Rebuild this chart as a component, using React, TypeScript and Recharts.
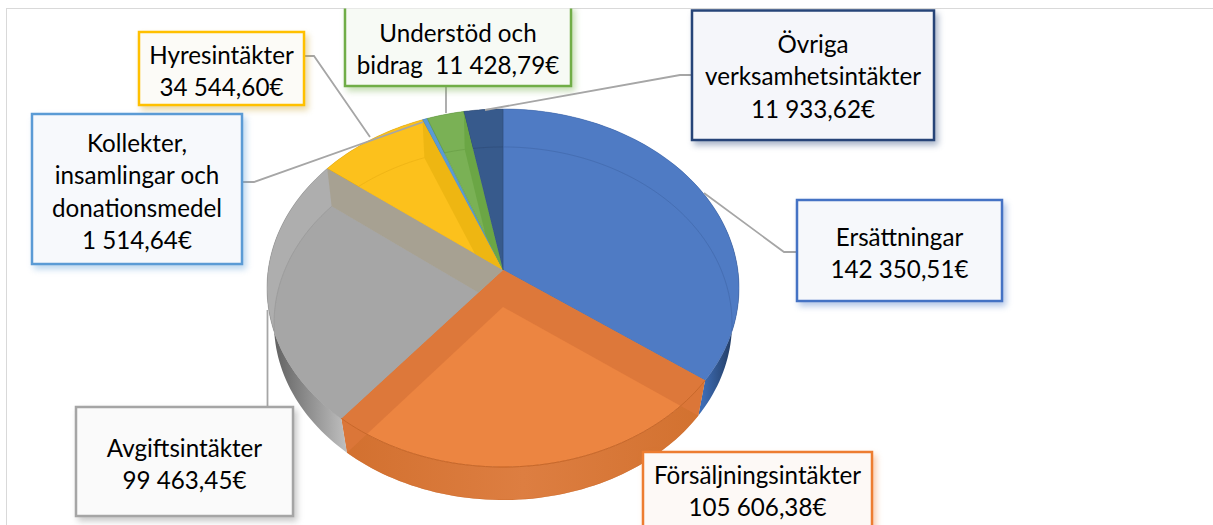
import { PieChart, Pie } from "recharts";

const NAMES = [
    "Ersättningar",
    "Försäljningsintäkter",
    "Avgiftsintäkter",
    "Hyresintäkter",
    "Kollekter, insamlingar och donationsmedel",
    "Understöd och bidrag",
    "Övriga verksamhetsintäkter",
];
const VALUES = [142350.51, 105606.38, 99463.45, 34544.6, 1514.64, 11428.79, 11933.62];
const LABEL_LINES = [
    ["Ersättningar", "142 350,51€"],
    ["Försäljningsintäkter", "105 606,38€"],
    ["Avgiftsintäkter", "99 463,45€"],
    ["Hyresintäkter", "34 544,60€"],
    ["Kollekter,", "insamlingar och", "donationsmedel", "1 514,64€"],
    ["Understöd och", "bidrag\u00a0\u00a011 428,79€"],
    ["Övriga", "verksamhetsintäkter", "11 933,62€"],
];

const pieData = NAMES.map((name, i) => ({ name, value: VALUES[i] }));

// styling per slice, same order as NAMES
const FACE = ["#4f7bc4", "#ec8541", "#aeaeae", "#fcc11c", "#5b9bd5", "#7ab155", "#375a8c"];
const FLOOR_TINT = [null, null, "#a6a6a6", null, null, null, null];
const ARC_LINE = ["#3f65a6", "#c8682a", "#939393", "#e6ad12", "#4a86bd", "#659a42", "#2c4a75"];
const WALL = [null, "#db773a", "#a6a08f", "#ecb512", null, "#69a544", null];
const RIM = ["url(#rimBlue)", "url(#rimOrange)", "url(#rimGray)", "#c99a10", "#41719c", "#5a8a3c", "#263f66"];

// boxes and leader lines for the callouts
const BOXES = [
    { x: 797, y: 200, w: 205, h: 101, border: "#4472c4", bg: "#f6f8fb", cy: 236, leader: "797,252 784,252 704,193", shadow: "68,114,196" },
    { x: 643, y: 452, w: 229, h: 90, border: "#ed7d31", bg: "#fdf9f6", cy: 474, leader: "", shadow: "237,125,49" },
    { x: 76, y: 407, w: 217, h: 109, border: "#a5a5a5", bg: "#fafafa", cy: 447, leader: "267.5,407 267.5,310", shadow: "120,120,120" },
    { x: 139, y: 32, w: 165, h: 73, border: "#ffc000", bg: "#fcfbf7", cy: 54, leader: "304,56 314,56 370,137", shadow: "200,160,40" },
    { x: 32, y: 114, w: 210, h: 150, border: "#5b9bd5", bg: "#f7f9fc", cy: 142, leader: "242,182 254,182 423,122", shadow: "91,155,213" },
    { x: 345, y: 6, w: 226, h: 80, border: "#70ad47", bg: "#f7faf5", cy: 32, leader: "446,86 446,113", shadow: "112,173,71" },
    { x: 692, y: 10.5, w: 242, h: 129.5, border: "#264478", bg: "#f5f6fa", cy: 43, leader: "692,75 680,75 485,110", shadow: "38,68,120" },
];
const LINE_GAP = 32.5;

type Face = { ax: number; ay: number; a: number; b: number; p: number };
// perspective of the tilted disc: top face and the floor below it
const TOP: Face = { ax: 503, ay: 270, a: 234.8, b: 177.2, p: 0.1006 };
const FLOOR: Face = { ax: 503, ay: 307, a: 228, b: 175, p: 0.0934 };

function project(f: Face, deg: number): [number, number] {
    const r = (deg * Math.PI) / 180;
    const X = Math.cos(r);
    const Y = -Math.sin(r);
    const s = 1 / (1 - f.p * Y);
    return [f.ax + f.a * X * s, f.ay + f.b * Y * s];
}

function arcPoints(f: Face, start: number, end: number) {
    const n = Math.max(2, Math.ceil(Math.abs(end - start) / 1.5));
    const pts: [number, number][] = [];
    for (let i = 0; i <= n; i++) pts.push(project(f, start + ((end - start) * i) / n));
    return pts;
}

const toPath = (pts: [number, number][], close = true) =>
    "M" + pts.map((p) => p[0].toFixed(2) + " " + p[1].toFixed(2)).join("L") + (close ? "Z" : "");

const idx = (name: string) => NAMES.indexOf(name);

const sectorPath = (f: Face, start: number, end: number) =>
    toPath([[f.ax, f.ay], ...arcPoints(f, start, end)]);

const rimPath = (start: number, end: number) =>
    toPath([...arcPoints(TOP, start, end), ...arcPoints(FLOOR, end, start)]);

function RimShape(props: any) {
    return <path d={rimPath(props.startAngle, props.endAngle)} fill={RIM[idx(props.name)]} />;
}

function TopShape(props: any) {
    const i = idx(props.name);
    const top = sectorPath(TOP, props.startAngle, props.endAngle);
    return (
        <g>
            <clipPath id={`slice${i}`}>
                <path d={top} />
            </clipPath>
            <path d={top} fill={FACE[i]} stroke={ARC_LINE[i]} strokeWidth={0.5} />
            {FLOOR_TINT[i] && (
                <path
                    d={sectorPath(FLOOR, props.startAngle, props.endAngle)}
                    fill={FLOOR_TINT[i] as string}
                    clipPath={`url(#slice${i})`}
                />
            )}
        </g>
    );
}

function wallPath(deg: number) {
    return toPath([[TOP.ax, TOP.ay], project(TOP, deg), project(FLOOR, deg), [FLOOR.ax, FLOOR.ay]]);
}

function WallShape(props: any) {
    const i = idx(props.name);
    const isOrange = i === 1;
    const clipId = `wallClip${i}`;
    return (
        <g>
            <clipPath id={clipId}>
                <path d={sectorPath(TOP, props.startAngle, props.endAngle)} />
                {isOrange && <path d={rimPath(props.startAngle, props.endAngle)} />}
            </clipPath>
            <g clipPath={`url(#${clipId})`}>
                {WALL[i] && <path d={wallPath(props.endAngle)} fill={WALL[i] as string} opacity={0.9} />}
                {isOrange && <path d={wallPath(props.startAngle)} fill={WALL[i] as string} opacity={0.9} />}
                <path
                    d={toPath(arcPoints(FLOOR, props.startAngle, props.endAngle), false)}
                    fill="none"
                    stroke={ARC_LINE[i]}
                    strokeWidth={0.7}
                    opacity={0.8}
                />
            </g>
            {isOrange && (
                <path
                    d={toPath(arcPoints(TOP, props.startAngle, props.endAngle), false)}
                    fill="none"
                    stroke={ARC_LINE[i]}
                    strokeWidth={1}
                />
            )}
        </g>
    );
}

const NoShape = () => <g />;

function Callout(props: any) {
    const i = idx(props.name);
    const box = BOXES[i];
    return (
        <g clipPath="url(#belowFrame)">
            {box.leader && <polyline points={box.leader} fill="none" stroke="#a6a6a6" strokeWidth={1.8} />}
            <rect
                x={box.x}
                y={box.y}
                width={box.w}
                height={box.h}
                fill={box.bg}
                stroke={box.border}
                strokeWidth={2.5}
                style={{ filter: `drop-shadow(3px 4px 3px rgba(${box.shadow},0.4))` }}
            />
            {LABEL_LINES[i].map((line, k) => (
                <text
                    key={k}
                    x={box.x + box.w / 2}
                    y={box.cy + k * LINE_GAP}
                    textAnchor="middle"
                    dominantBaseline="central"
                    fontFamily="Lato"
                    fontSize={24.2}
                    fill="#000000"
                >
                    {line}
                </text>
            ))}
        </g>
    );
}

export default function App() {
    const common = {
        data: pieData,
        dataKey: "value",
        nameKey: "name",
        cx: TOP.ax,
        cy: TOP.ay,
        outerRadius: 236,
        startAngle: 90,
        endAngle: -270,
        stroke: "none",
        isAnimationActive: false,
    };
    return (
        <div style={{ position: "fixed", left: 0, top: 0, width: 1213, height: 525, overflow: "hidden", background: "#fff" }}>
            <div style={{ position: "absolute", left: 6, top: 8, width: 1400, height: 800, border: "1.5px solid #d9d9d9" }} />
            <div style={{ position: "absolute", left: 0, top: 0 }}>
                <PieChart width={1213} height={525} margin={{ top: 0, right: 0, bottom: 0, left: 0 }}>
                    <defs>
                        <linearGradient id="rimBlue" gradientUnits="userSpaceOnUse" x1={703} y1={0} x2={738} y2={0}>
                            <stop offset="0%" stopColor="#3d6cb4" />
                            <stop offset="100%" stopColor="#1e3354" />
                        </linearGradient>
                        <linearGradient id="rimOrange" gradientUnits="userSpaceOnUse" x1={342} y1={0} x2={705} y2={0}>
                            <stop offset="0%" stopColor="#d2702f" />
                            <stop offset="50%" stopColor="#dd7e41" />
                            <stop offset="100%" stopColor="#d2712f" />
                        </linearGradient>
                        <linearGradient id="rimGray" gradientUnits="userSpaceOnUse" x1={272} y1={0} x2={345} y2={0}>
                            <stop offset="0%" stopColor="#5f5f5f" />
                            <stop offset="100%" stopColor="#bdbdbd" />
                        </linearGradient>
                        <clipPath id="belowFrame">
                            <rect x={0} y={8.5} width={1213} height={517} />
                        </clipPath>
                    </defs>
                    <Pie {...common} shape={RimShape} />
                    <Pie {...common} shape={TopShape} />
                    <Pie {...common} shape={WallShape} />
                    <Pie {...common} shape={NoShape} label={Callout} labelLine={false} />
                </PieChart>
            </div>
        </div>
    );
}
